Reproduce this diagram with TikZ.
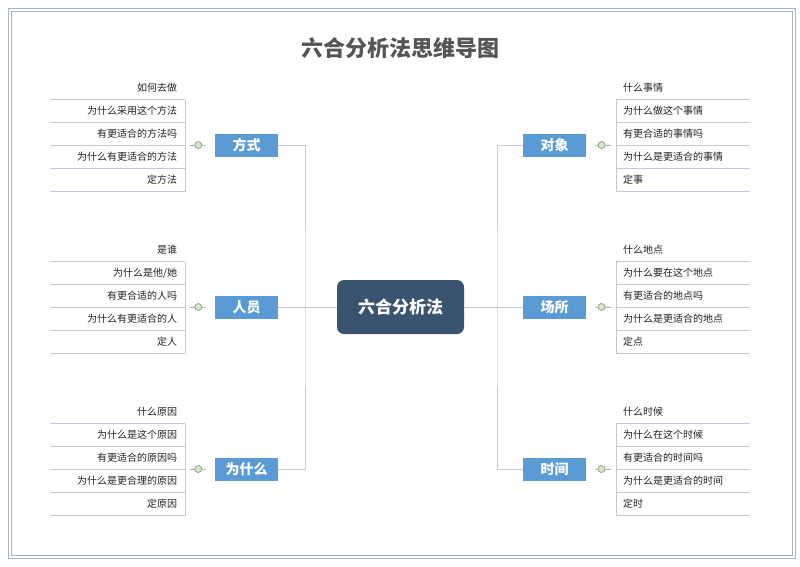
\documentclass[tikz,border=0pt]{standalone}
\usepackage{fontspec}
\setmainfont{Noto Sans CJK SC}
\usepackage{tikz}

\definecolor{framec}{HTML}{A9B3C9}
\definecolor{twigc}{HTML}{C2CAD8}
\definecolor{stubc}{HTML}{A4ACA4}
\definecolor{boxblue}{HTML}{5B9BD5}
\definecolor{hubc}{HTML}{3A5470}
\definecolor{knobf}{HTML}{D5E8C4}
\definecolor{knobd}{HTML}{8C9A8C}
\definecolor{leaftext}{HTML}{222222}
\definecolor{titlec}{HTML}{555555}

\begin{document}
\begin{tikzpicture}[x=1pt, y=-1pt, every node/.style={outer sep=0pt, text=leaftext},
  twig/.style={draw=twigc, line width=0.8pt},
  stub/.style={draw=stubc, line width=0.8pt},
  lleaf/.style={inner xsep=8pt, inner ysep=0pt, minimum height=23pt, text width=119pt, align=right,
    font=\fontsize{10}{12}\selectfont,
    append after command={(\tikzlastnode.south west) edge[twig] (\tikzlastnode.south east)}},
  rleaf/.style={lleaf, inner xsep=7pt, text width=120pt, align=left},
  topic/.style={fill=boxblue, text=white, minimum width=63pt, minimum height=23pt, inner sep=0pt,
    font=\bfseries\fontsize{14}{16}\selectfont},
  knob/.style={circle, draw=knobd, fill=knobf, minimum size=7pt, inner sep=0pt, line width=0.7pt}]
\useasboundingbox (0,0) rectangle (800,566);
\draw[framec, line width=1pt] (8,8) rectangle (795,558);
\draw[framec, line width=1pt] (11,11) rectangle (792,555);

\node[font=\bfseries\fontsize{22}{26}\selectfont, text=titlec] (title) at (400,48) {六合分析法思维导图};

\node[fill=hubc, rounded corners=7pt, minimum width=127pt, minimum height=54pt, text=white,
  font=\bfseries\fontsize{17}{20}\selectfont] (hub) at (400.5,307) {六合分析法};

\node[topic] (fs) at (246.5,145) {方式};
\node[topic] (ry) at (246.5,307) {人员};
\node[topic] (wsm) at (246.5,469) {为什么};
\node[topic] (dx) at (554.5,145) {对象};
\node[topic] (cs) at (554.5,307) {场所};
\node[topic] (sj) at (554.5,469) {时间};

% left lists
\node[lleaf] (fs0) at (117.5,88) {如何去做};
\node[lleaf] (fs1) at (117.5,111) {为什么采用这个方法};
\node[lleaf] (fs2) at (117.5,134) {有更适合的方法吗};
\node[lleaf] (fs3) at (117.5,157) {为什么有更适合的方法};
\node[lleaf] (fs4) at (117.5,180) {定方法};

\node[lleaf] (ry0) at (117.5,250) {是谁};
\node[lleaf] (ry1) at (117.5,273) {为什么是他/她};
\node[lleaf] (ry2) at (117.5,296) {有更合适的人吗};
\node[lleaf] (ry3) at (117.5,319) {为什么有更适合的人};
\node[lleaf] (ry4) at (117.5,342) {定人};

\node[lleaf] (wsm0) at (117.5,412) {什么原因};
\node[lleaf] (wsm1) at (117.5,435) {为什么是这个原因};
\node[lleaf] (wsm2) at (117.5,458) {有更适合的原因吗};
\node[lleaf] (wsm3) at (117.5,481) {为什么是更合理的原因};
\node[lleaf] (wsm4) at (117.5,504) {定原因};

% right lists
\node[rleaf] (dx0) at (683,88) {什么事情};
\node[rleaf] (dx1) at (683,111) {为什么做这个事情};
\node[rleaf] (dx2) at (683,134) {有更合适的事情吗};
\node[rleaf] (dx3) at (683,157) {为什么是更适合的事情};
\node[rleaf] (dx4) at (683,180) {定事};

\node[rleaf] (cs0) at (683,250) {什么地点};
\node[rleaf] (cs1) at (683,273) {为什么要在这个地点};
\node[rleaf] (cs2) at (683,296) {有更适合的地点吗};
\node[rleaf] (cs3) at (683,319) {为什么是更适合的地点};
\node[rleaf] (cs4) at (683,342) {定点};

\node[rleaf] (sj0) at (683,412) {什么时候};
\node[rleaf] (sj1) at (683,435) {为什么在这个时候};
\node[rleaf] (sj2) at (683,458) {有更适合的时间吗};
\node[rleaf] (sj3) at (683,481) {为什么是更适合的时间};
\node[rleaf] (sj4) at (683,504) {定时};

% trunk
\coordinate (lj) at (305,307);
\coordinate (rj) at (497,307);
\draw[twig] (hub.west) -- (lj);
\draw[twig] (fs.east) -| (lj) |- (wsm.east);
\draw[twig] (ry.east) -- (lj);
\draw[twig] (hub.east) -- (rj);
\draw[twig] (dx.west) -| (rj) |- (sj.west);
\draw[twig] (cs.west) -- (rj);

% list spines
\draw[twig] (fs0.south east) -- (fs4.south east);
\draw[twig] (ry0.south east) -- (ry4.south east);
\draw[twig] (wsm0.south east) -- (wsm4.south east);
\draw[twig] (dx0.south west) -- (dx4.south west);
\draw[twig] (cs0.south west) -- (cs4.south west);
\draw[twig] (sj0.south west) -- (sj4.south west);

% stubs with knobs
\draw[stub, shorten <=5pt, shorten >=9pt] (fs2.south east) -- (fs.west);
\draw[stub, shorten <=5pt, shorten >=9pt] (ry2.south east) -- (ry.west);
\draw[stub, shorten <=5pt, shorten >=9pt] (wsm2.south east) -- (wsm.west);
\draw[stub, shorten <=9pt, shorten >=5pt] (dx.east) -- (dx2.south west);
\draw[stub, shorten <=9pt, shorten >=5pt] (cs.east) -- (cs2.south west);
\draw[stub, shorten <=9pt, shorten >=5pt] (sj.east) -- (sj2.south west);
\node[knob] (fsk) at (198.3,145) {};
\node[knob] (ryk) at (198.3,307) {};
\node[knob] (wsmk) at (198.3,469) {};
\node[knob] (dxk) at (601.5,145) {};
\node[knob] (csk) at (601.5,307) {};
\node[knob] (sjk) at (601.5,469) {};
\end{tikzpicture}
\end{document}
